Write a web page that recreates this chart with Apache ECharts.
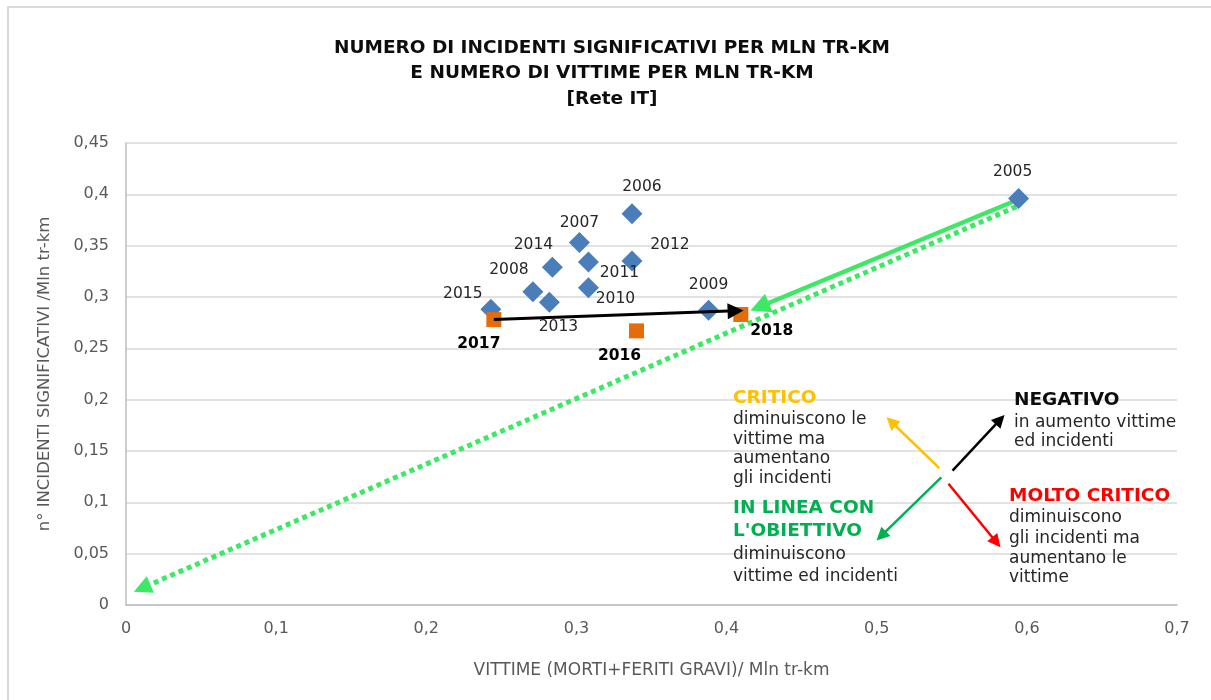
<!DOCTYPE html>
<html>
<head>
<meta charset="utf-8">
<script src="https://cdn.jsdelivr.net/npm/echarts@6/dist/echarts.min.js"></script>
<style>
  html, body { margin: 0; padding: 0; background: #fff; }
  #chart { width: 1211px; height: 700px; }
</style>
</head>
<body>
<div id="chart"></div>
<script>
const FONT = "'DejaVu Sans', sans-serif";

// storico (rombi blu)
const years = ["2005", "2006", "2007", "2008", "2009", "2010", "2011", "2012", "2013", "2014", "2015"];
const vittime = [0.5945, 0.337, 0.302, 0.271, 0.388, 0.308, 0.308, 0.337, 0.282, 0.284, 0.243];
const incidenti = [0.396, 0.381, 0.353, 0.305, 0.287, 0.309, 0.334, 0.335, 0.295, 0.329, 0.288];

// ultimi anni (quadrati arancio)
const recentYears = ["2016", "2017", "2018"];
const recentVittime = [0.340, 0.245, 0.4095];
const recentIncidenti = [0.267, 0.278, 0.283];

// frecce (coordinate in unità dei dati, fino al centro della punta)
const arrowTrend = [[0.245, 0.278], [0.406, 0.2865]];
const arrowTarget = [[0.591, 0.393], [0.422, 0.2905]];
const arrowGoal = [[0.593, 0.388], [0.0107, 0.0165]];
const arrowCritico = [[0.5417, 0.1334], [0.5097, 0.1785]];
const arrowNegativo = [[0.5505, 0.1308], [0.5822, 0.1805]];
const arrowLinea = [[0.543, 0.1243], [0.503, 0.0673]];
const arrowMolto = [[0.5478, 0.1181], [0.5797, 0.0612]];

const xTicks = { min: 0, max: 0.7, step: 0.1 };
const yTicks = { min: 0, max: 0.45, step: 0.05 };

// spostamento delle etichette rispetto al punto
const labelOffset = {
  "2005": [-6, -26], "2006": [10, -27], "2007": [0, -20], "2008": [-24, -22],
  "2009": [0, -25], "2010": [27, 11], "2011": [31, 11], "2012": [38, -16],
  "2013": [9, 25], "2014": [-19, -22], "2015": [-28, -15],
  "2016": [-17, 25], "2017": [-15, 24], "2018": [31, 17],
};

const comma = (v) => String(Number(v.toFixed(2))).replace(".", ",");

function pointData(names, xs, ys, bold) {
  return names.map((n, i) => ({
    value: [xs[i], ys[i]],
    label: {
      show: true,
      formatter: n,
      position: "inside",
      offset: labelOffset[n],
      fontFamily: FONT,
      fontSize: 15.5,
      fontWeight: bold ? "bold" : "normal",
      color: bold ? "#000" : "#262626",
    },
  }));
}

function arrow(coords, color, width, head, type) {
  return {
    type: "lines",
    coordinateSystem: "cartesian2d",
    polyline: false,
    silent: true,
    z: 3,
    symbol: ["none", "triangle"],
    symbolSize: head,
    lineStyle: { color, width, type: type || "solid", opacity: 1, cap: "butt" },
    data: [{ coords }],
  };
}

function textBlock(x, lines) {
  return lines.map(([t, y, color, bold]) => ({
    type: "text",
    z: 10,
    style: {
      x, y, text: t,
      fill: color || "#262626",
      font: (bold ? "bold 18.5px " : "17px ") + FONT,
      verticalAlign: "middle",
    },
  }));
}

const chart = echarts.init(document.getElementById("chart"));
chart.setOption({
  animation: false,
  title: {
    text: "NUMERO DI INCIDENTI SIGNIFICATIVI PER MLN TR-KM\nE NUMERO DI VITTIME PER MLN TR-KM\n[Rete IT]",
    left: 607,
    textAlign: "center",
    top: 30,
    textStyle: { fontFamily: FONT, fontSize: 18.5, fontWeight: "bold", color: "#0d0d0d", lineHeight: 25.5 },
  },
  grid: { left: 126, right: 34, top: 143, bottom: 95 },
  xAxis: {
    type: "value",
    min: xTicks.min, max: xTicks.max, interval: xTicks.step,
    name: "VITTIME (MORTI+FERITI GRAVI)/ Mln tr-km",
    nameLocation: "middle",
    nameGap: 57,
    nameTextStyle: { fontFamily: FONT, fontSize: 17, color: "#595959" },
    axisLine: { show: true, lineStyle: { color: "#bfbfbf", width: 1.5 } },
    axisTick: { show: false },
    splitLine: { show: false },
    axisLabel: { formatter: comma, fontFamily: FONT, fontSize: 16, color: "#595959", margin: 16 },
  },
  yAxis: {
    type: "value",
    min: yTicks.min, max: yTicks.max, interval: yTicks.step,
    name: "n° INCIDENTI SIGNIFICATIVI /Mln tr-km",
    nameLocation: "middle",
    nameGap: 73,
    nameTextStyle: { fontFamily: FONT, fontSize: 16.5, color: "#595959" },
    axisLine: { show: true, lineStyle: { color: "#bfbfbf", width: 1.5 } },
    axisTick: { show: false },
    splitLine: { lineStyle: { color: "#d9d9d9", width: 1.5 } },
    axisLabel: { formatter: comma, fontFamily: FONT, fontSize: 16, color: "#595959", margin: 17 },
  },
  graphic: [
    { type: "rect", z: -1, silent: true, shape: { x: 8, y: 7, width: 1260, height: 720 },
      style: { fill: "none", stroke: "#d9d9d9", lineWidth: 2 } },
    ...textBlock(733, [
      ["CRITICO", 398, "#ffc000", true],
      ["diminuiscono le", 419.5],
      ["vittime ma", 439.5],
      ["aumentano", 459],
      ["gli incidenti", 478.5],
    ]),
    ...textBlock(1014, [
      ["NEGATIVO", 400, "#0d0d0d", true],
      ["in aumento vittime", 423],
      ["ed incidenti", 442],
    ]),
    ...textBlock(733, [
      ["IN LINEA CON", 508.5, "#00b050", true],
      ["L'OBIETTIVO", 531.5, "#00b050", true],
      ["diminuiscono", 555],
      ["vittime ed incidenti", 577],
    ]),
    ...textBlock(1009, [
      ["MOLTO CRITICO", 496, "#ff0000", true],
      ["diminuiscono", 518],
      ["gli incidenti ma", 538.5],
      ["aumentano le", 558.5],
      ["vittime", 577.5],
    ]),
  ],
  series: [
    arrow(arrowGoal, "#3de865", 5, [16, 18], [5, 4]),
    arrow(arrowTarget, "#3de865", 4.5, [17, 20]),
    {
      type: "scatter",
      z: 4,
      symbol: "diamond",
      symbolSize: 21,
      itemStyle: { color: "#4a7ebb", opacity: 1 },
      data: pointData(years, vittime, incidenti, false),
    },
    {
      type: "scatter",
      z: 5,
      symbol: "rect",
      symbolSize: 15,
      itemStyle: { color: "#e46c0a", opacity: 1 },
      data: pointData(recentYears, recentVittime, recentIncidenti, true),
    },
    Object.assign(arrow(arrowTrend, "#000", 3, [13, 16]), { z: 6 }),
    arrow(arrowCritico, "#ffc000", 2.5, [12, 13]),
    arrow(arrowNegativo, "#000", 2.5, [12, 13]),
    arrow(arrowLinea, "#00b050", 2.5, [12, 13]),
    arrow(arrowMolto, "#ff0000", 2.5, [12, 13]),
  ],
});
</script>
</body>
</html>
